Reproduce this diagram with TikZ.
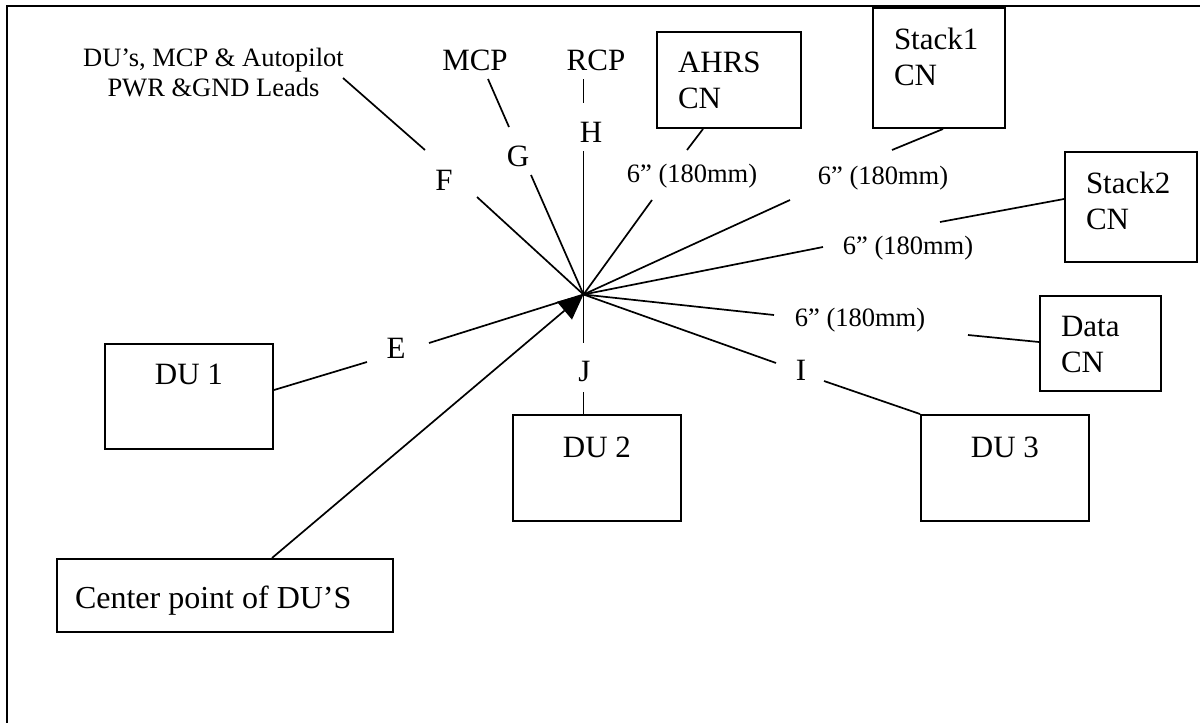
\documentclass[tikz,border=0pt]{standalone}
\usepackage{fontspec}
\setmainfont{Liberation Serif}
\usetikzlibrary{arrows.meta,calc}
\newcommand{\bigf}{\fontsize{15.5pt}{18pt}\selectfont}
\newcommand{\smallf}{\fontsize{13.25pt}{15pt}\selectfont}
\tikzset{
  box/.style={draw, line width=1pt, inner sep=0pt, anchor=north west, font=\bigf},
  lbl/.style={inner sep=0pt, anchor=base, font=\bigf},
  len/.style={inner sep=0pt, anchor=base, font=\smallf},
  wire/.style={line width=0.85pt},
}
\begin{document}
\begin{tikzpicture}[x=0.5pt, y=-0.5pt]
\useasboundingbox (0,0) rectangle (1200,723);
% frame
\draw[line width=1pt] (7,723) -- (7,6) -- (1200,6);

% boxes
\node[box] (ahrs) at (656,31) {\begin{minipage}[t][48pt][t]{72pt}\leftskip=10.5pt\rule{0pt}{20pt}AHRS\\CN\end{minipage}};
\node[box] (stack1) at (872,7) {\begin{minipage}[t][60pt][t]{66pt}\leftskip=10.5pt\rule{0pt}{20.5pt}Stack1\\CN\end{minipage}};
\node[box] (stack2) at (1064,151) {\begin{minipage}[t][55pt][t]{66pt}\leftskip=10.5pt\rule{0pt}{20.5pt}Stack2\\CN\end{minipage}};
\node[box] (data) at (1039,295) {\begin{minipage}[t][47.5pt][t]{60.5pt}\leftskip=10.5pt\rule{0pt}{20pt}Data\\CN\end{minipage}};
\node[box] (du1) at (104,343) {\begin{minipage}[t][52.5pt][t]{84pt}\centering\rule{0pt}{20pt}DU 1\end{minipage}};
\node[box] (du2) at (512,414) {\begin{minipage}[t][53pt][t]{84pt}\centering\rule{0pt}{21pt}DU 2\end{minipage}};
\node[box] (du3) at (920,414) {\begin{minipage}[t][53pt][t]{84pt}\centering\rule{0pt}{21pt}DU 3\end{minipage}};
\node[box, font=\fontsize{16pt}{19pt}\selectfont] (cp) at (56,558) {\begin{minipage}[t][36.5pt][t]{168pt}\leftskip=9pt\rule{0pt}{24.5pt}Center point of DU’S\end{minipage}};

% labels
\node[len, anchor=north, align=center] (pwr) at (213.5,47.5) {DU’s, MCP \& Autopilot\\PWR \&GND Leads};
\node[lbl] (mcp) at (475,70) {MCP};
\node[lbl] (rcp) at (596,70) {RCP};
\node[lbl] (F) at (444,190) {F};
\node[lbl] (G) at (518,166.5) {G};
\node[lbl] (H) at (591,142) {H};
\node[lbl] (E) at (396,358) {E};
\node[lbl] (J) at (584.5,381) {J};
\node[lbl] (I) at (801,380) {I};
\node[len] (lahrs) at (692,182.5) {6” (180mm)};
\node[len] (ls1) at (883,184) {6” (180mm)};
\node[len] (ls2) at (908,254) {6” (180mm)};
\node[len] (ldata) at (860,326) {6” (180mm)};

% hub
\coordinate (C) at (583.5,294.5);

% segment ends
\coordinate (fA) at (343,78);   \coordinate (fB) at (425,150);  \coordinate (fC) at (477,197);
\coordinate (gA) at (488,79);   \coordinate (gB) at (509,127);  \coordinate (gC) at (531,175);
\coordinate (hA) at (583.5,79); \coordinate (hB) at (583.5,103);\coordinate (hC) at (583.5,151);
\coordinate (aA) at (687,150);  \coordinate (aB) at (652,200);
\coordinate (sA) at (892,150);  \coordinate (sB) at (790,200);
\coordinate (tA) at (940,222);  \coordinate (tB) at (823,247);
\coordinate (dA) at (968,335);  \coordinate (dB) at (774,315);
\coordinate (iA) at (776,363);  \coordinate (iB) at (824,381);
\coordinate (jA) at (583.5,343);\coordinate (jB) at (583.5,392);
\coordinate (eA) at (429,343);  \coordinate (eB) at (367,362);

% connectors
\draw[wire] (fA) -- (fB);  \draw[wire] (fC) -- (C);
\draw[wire] (gA) -- (gB);  \draw[wire] (gC) -- (C);
\draw[wire] (hA) -- (hB);  \draw[wire] (hC) -- (C);
\draw[wire] ($(ahrs.south west)+(47,0)$) -- (aA);  \draw[wire] (aB) -- (C);
\draw[wire] ($(stack1.south west)+(71,0)$) -- (sA);  \draw[wire] (sB) -- (C);
\draw[wire] ($(stack2.north west)+(0,48)$) -- (tA);  \draw[wire] (tB) -- (C);
\draw[wire] ($(data.north west)+(0,47)$) -- (dA);  \draw[wire] (dB) -- (C);
\draw[wire] (C) -- (iA);  \draw[wire] (iB) -- (du3.north west);
\draw[wire] (C) -- (jA);  \draw[wire] (jB) -- ($(du2.north west)+(71.5,0)$);
\draw[wire] (C) -- (eA);  \draw[wire] (eB) -- ($(du1.north east)+(0,47)$);
\draw[wire, -{Triangle[length=12.5pt, width=11.5pt]}] ($(cp.north west)+(216,0)$) -- (C);
\end{tikzpicture}
\end{document}
